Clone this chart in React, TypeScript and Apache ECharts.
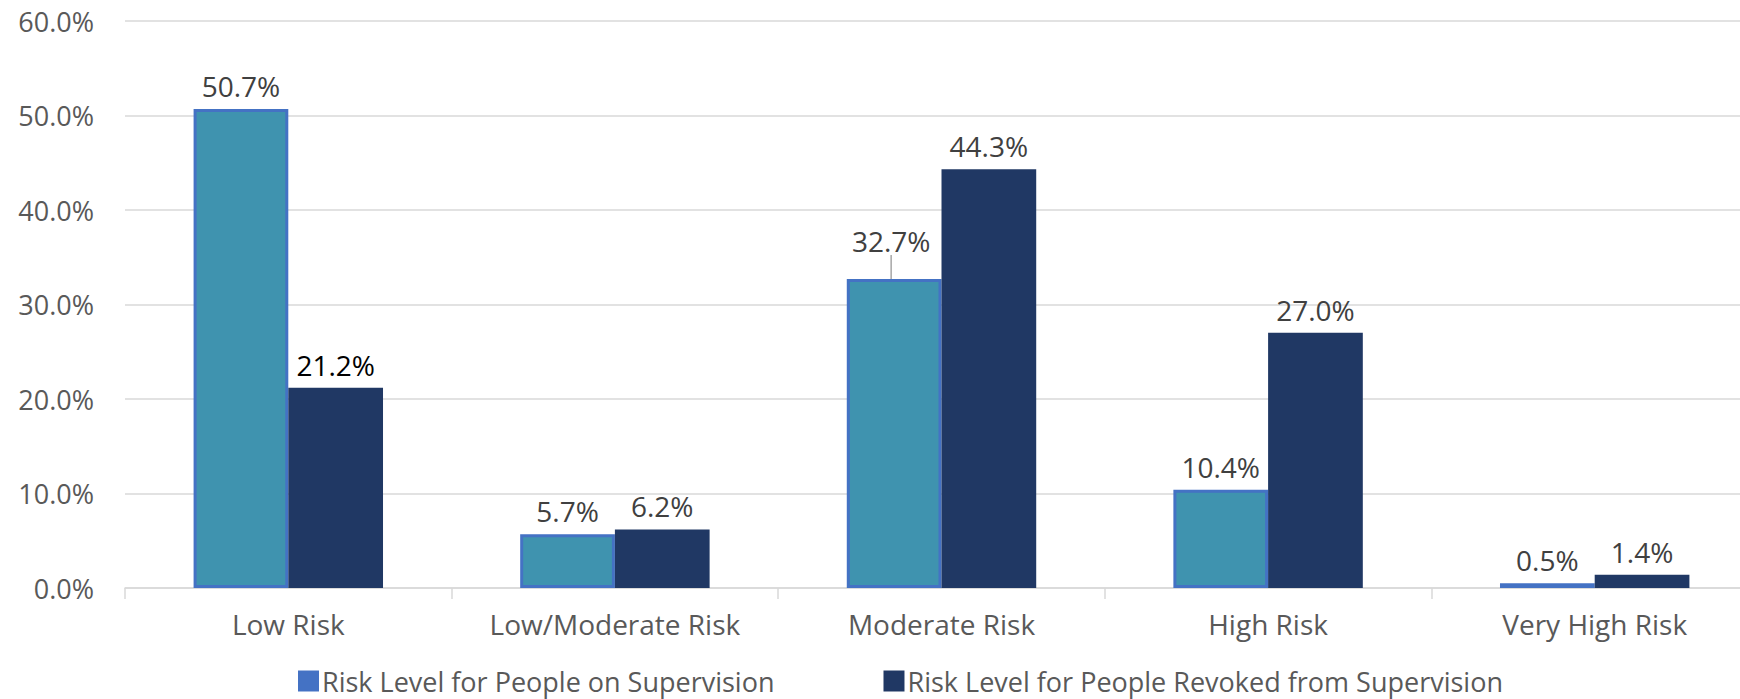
import React, { useEffect, useRef } from "react";
import * as echarts from "echarts";

const categories = ["Low Risk", "Low/Moderate Risk", "Moderate Risk", "High Risk", "Very High Risk"];
const supervisionValues = [50.7, 5.7, 32.7, 10.4, 0.5];
const revokedValues = [21.2, 6.2, 44.3, 27.0, 1.4];
const seriesNames = ["Risk Level for People on Supervision", "Risk Level for People Revoked from Supervision"];

const FONT = "'Open Sans', sans-serif";

export default function App() {
  const ref = useRef<HTMLDivElement>(null);
  useEffect(() => {
    if (!ref.current) return;
    document.body.style.margin = "0";
    document.body.style.overflow = "hidden";
    const chart = echarts.init(ref.current, undefined, { renderer: "svg" });
    const labelStyle = {
      show: true,
      position: "top" as const,
      distance: 9,
      fontFamily: FONT,
      fontSize: 28,
      color: "#404040",
      formatter: (p: any) => Number(p.value).toFixed(1) + "%",
    };
    chart.setOption({
      animation: false,
      textStyle: { fontFamily: FONT },
      grid: { left: 125, right: 2, top: 21, bottom: 111, containLabel: false },
      legend: {
        left: 293,
        top: 662,
        padding: 5,
        itemWidth: 21,
        itemHeight: 21,
        itemGap: 109,
        icon: "rect",
        textStyle: {
          fontFamily: FONT,
          fontSize: 27,
          lineHeight: 28,
          color: "#595959",
          padding: [0, 0, 0, -2],
        },
        data: [
          { name: seriesNames[0], itemStyle: { color: "#4472C4", borderWidth: 0 } },
          { name: seriesNames[1], itemStyle: { color: "#203864", borderWidth: 0 } },
        ],
      },
      xAxis: {
        type: "category",
        data: categories,
        axisLine: { lineStyle: { color: "#D9D9D9", width: 1.5 } },
        axisTick: { show: true, length: 11, lineStyle: { color: "#D9D9D9", width: 1.5 } },
        axisLabel: { fontFamily: FONT, fontSize: 28, color: "#595959", margin: 22 },
      },
      yAxis: {
        type: "value",
        min: 0,
        max: 60,
        interval: 10,
        axisLine: { show: false },
        axisTick: { show: false },
        splitLine: { lineStyle: { color: "#D9D9D9", width: 1.5 } },
        axisLabel: {
          fontFamily: FONT,
          fontSize: 27,
          color: "#595959",
          margin: 31,
          formatter: (v: number) => v.toFixed(1) + "%",
        },
      },
      series: [
        {
          name: seriesNames[0],
          type: "bar",
          barGap: "0%",
          barCategoryGap: "42%",
          itemStyle: { color: "#3F93AF", borderColor: "#4472C4", borderWidth: 3 },
          label: labelStyle,
          labelLine: { show: false, lineStyle: { color: "#A6A6A6", width: 1.5 } },
          labelLayout: (params: any) =>
            params.dataIndex === 2 ? { dy: -15, dx: -3 } : {},
          data: supervisionValues.map((v, i) =>
            i === 2 ? { value: v, labelLine: { show: true } } : v
          ),
        },
        {
          name: seriesNames[1],
          type: "bar",
          itemStyle: { color: "#203864" },
          label: labelStyle,
          data: revokedValues.map((v, i) =>
            i === 0 ? { value: v, label: { color: "#000000" } } : v
          ),
        },
      ],
    });
    return () => chart.dispose();
  }, []);
  return (
    <div style={{ position: "fixed", left: 0, top: 0, width: 1740, height: 699, overflow: "hidden", background: "#fff" }}>
      <div ref={ref} style={{ width: 1760, height: 699 }} />
    </div>
  );
}
